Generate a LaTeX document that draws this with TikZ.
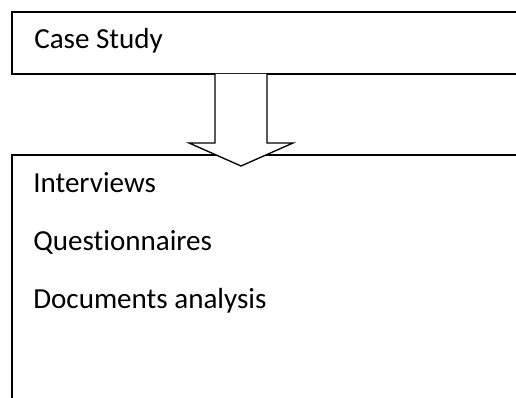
\documentclass[tikz,border=0pt]{standalone}
\usepackage{fontspec}
\setmainfont{Carlito}[Ligatures=NoCommon]
\usetikzlibrary{positioning}

\begin{document}
\begin{tikzpicture}[x=0.75pt, y=-0.75pt,
	box/.style={draw=black, line width=1.3pt},
	txt/.style={anchor=base west, inner sep=0pt, font=\fontsize{21.8}{26}\selectfont}]
	\useasboundingbox (0,0) rectangle (516,398);
	\clip (0,0) rectangle (516,398);
	\draw[box] (12,12) rectangle (540,74);
	\draw[box] (12,155) rectangle (540,420);
	\draw (34,49) node[txt] (case) {Case Study};
	\draw[fill=white, line width=1pt, line join=miter] (215,74) -- (215,143) -- (189,143) -- (241,166) -- (293,143) -- (267,143) -- (267,74);
	\draw (33,193) node[txt] (interviews) {Interviews};
	\draw (33,251) node[txt] (questionnaires) {Questionnaires};
	\draw (33,308) node[txt] (documents) {Documents analysis};
\end{tikzpicture}
\end{document}
